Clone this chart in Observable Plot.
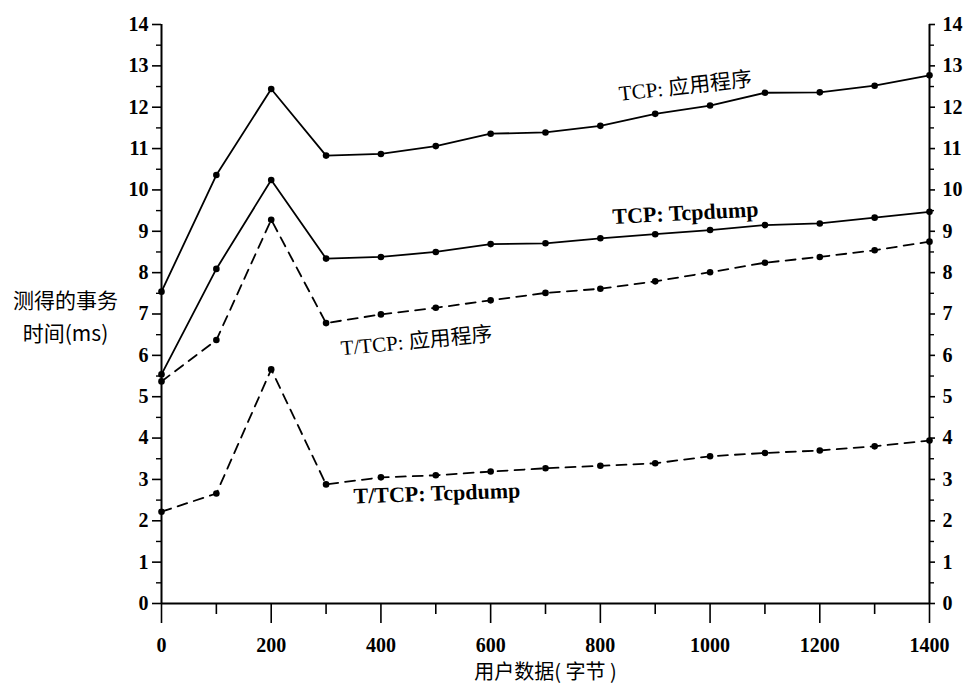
<!DOCTYPE html>
<html>
<head>
<meta charset="utf-8">
<script src="https://cdn.jsdelivr.net/npm/d3@7"></script>
<script src="https://cdn.jsdelivr.net/npm/@observablehq/plot@0.6"></script>
<style>
  html, body { margin: 0; padding: 0; background: #fff; }
  #chart { width: 966px; height: 690px; }
</style>
</head>
<body>
<div id="chart"></div>
<script>
// ---- data ----
const userBytes = [0, 100, 200, 300, 400, 500, 600, 700, 800, 900, 1000, 1100, 1200, 1300, 1400];
const tcpApp    = [7.54, 10.36, 12.44, 10.83, 10.87, 11.06, 11.36, 11.39, 11.55, 11.84, 12.04, 12.35, 12.36, 12.52, 12.77];
const tcpDump   = [5.54, 8.09, 10.24, 8.34, 8.38, 8.50, 8.69, 8.71, 8.83, 8.93, 9.03, 9.15, 9.19, 9.33, 9.47];
const ttcpApp   = [5.37, 6.37, 9.28, 6.78, 6.99, 7.15, 7.33, 7.51, 7.61, 7.79, 8.01, 8.24, 8.38, 8.54, 8.75];
const ttcpDump  = [2.22, 2.66, 5.66, 2.88, 3.05, 3.10, 3.19, 3.27, 3.33, 3.39, 3.56, 3.64, 3.70, 3.80, 3.94];

const seriesNames = ["TCP: 应用程序", "TCP: Tcpdump", "T/TCP: 应用程序", "T/TCP: Tcpdump"];
const seriesDashed = [false, false, true, true];
const seriesBold = [false, true, false, true];
// label anchors in data units (x bytes, y ms) and rotation in degrees
const labelX = [955, 955, 465, 502];
const labelY = [12.5, 9.44, 6.34, 2.66];
const labelRotate = [-6.5, -3, -5.5, -2];

const yTicks = d3.range(0, 15);
const yMinorTicks = d3.range(0.5, 14, 1);
const xTicks = d3.range(0, 1401, 200);
const xMinorTicks = d3.range(100, 1400, 200);

const yTitle = "测得的事务\n时间(ms)";
const xTitle = "用户数据( 字节 )";

// ---- build tables ----
const allSeries = [tcpApp, tcpDump, ttcpApp, ttcpDump];
const rows = allSeries.flatMap((vals, i) =>
  vals.map((v, j) => ({series: seriesNames[i], dashed: seriesDashed[i], x: userBytes[j], y: v})));
const labels = seriesNames.map((name, i) => ({
  text: name, x: labelX[i], y: labelY[i], rotate: labelRotate[i], bold: seriesBold[i]
}));

const serif = "Liberation Serif, Noto Sans CJK SC, serif";
const sans = "Noto Sans CJK SC, Noto Sans, sans-serif";
const plain = d => String(d);
const ident = d => d;

const lineMarks = seriesNames.map((name, i) =>
  Plot.line(rows.filter(d => d.series === name), {
    x: "x", y: "y", stroke: "black", strokeWidth: 1.8,
    strokeDasharray: seriesDashed[i] ? "10,7" : null
  }));

const tickLabelStyle = {fontSize: 20, fontWeight: "bold", fontFamily: serif, fill: "black", text: plain};

const chart = Plot.plot({
  width: 966,
  height: 690,
  marginLeft: 161,
  marginRight: 37,
  marginTop: 24,
  marginBottom: 87,
  style: `font-family: ${serif}; background: white; color: black; overflow: visible;`,
  x: {domain: [0, 1400], axis: null},
  y: {domain: [0, 14], axis: null},
  marks: [
    // ticks (zero-length rules at the axes, extended outward by negative insets)
    Plot.ruleY(yTicks, {y: ident, x1: 0, x2: 0, insetLeft: -9, stroke: "black", strokeWidth: 1.6}),
    Plot.ruleY(yMinorTicks, {y: ident, x1: 0, x2: 0, insetLeft: -5, stroke: "black", strokeWidth: 1.4}),
    Plot.ruleY(yTicks, {y: ident, x1: 1400, x2: 1400, insetRight: -6, stroke: "black", strokeWidth: 1.6}),
    Plot.ruleY(yMinorTicks, {y: ident, x1: 1400, x2: 1400, insetRight: -5, stroke: "black", strokeWidth: 1.4}),
    Plot.ruleX(xTicks, {x: ident, y1: 0, y2: 0, insetBottom: -20, stroke: "black", strokeWidth: 1.6}),
    Plot.ruleX(xMinorTicks, {x: ident, y1: 0, y2: 0, insetBottom: -11, stroke: "black", strokeWidth: 1.6}),
    // tick labels
    Plot.text(yTicks, {...tickLabelStyle, x: 0, y: ident, textAnchor: "end", dx: -13}),
    Plot.text(yTicks, {...tickLabelStyle, x: 1400, y: ident, textAnchor: "start", dx: 13}),
    Plot.text(xTicks, {...tickLabelStyle, x: ident, y: 0, dy: 42}),
    // frame lines
    Plot.ruleX([0, 1400], {stroke: "black", strokeWidth: 2}),
    Plot.ruleY([0], {stroke: "black", strokeWidth: 2}),
    // data
    ...lineMarks,
    Plot.dot(rows, {x: "x", y: "y", r: 3.3, fill: "black", stroke: null}),
    // series labels
    Plot.text(labels.filter(d => !d.bold), {x: "x", y: "y", text: "text", rotate: "rotate",
      fontSize: 21, fontFamily: serif, fill: "black"}),
    Plot.text(labels.filter(d => d.bold), {x: "x", y: "y", text: "text", rotate: "rotate",
      fontSize: 22, fontWeight: "bold", fontFamily: serif, fill: "black"}),
    // axis titles
    Plot.text([yTitle], {frameAnchor: "left", dx: -96, text: ident, textAnchor: "middle",
      lineHeight: 1.55, fontSize: 21, fontFamily: sans, fill: "black"}),
    Plot.text([xTitle], {frameAnchor: "bottom", dy: 75, text: ident, textAnchor: "middle",
      fontSize: 20, fontFamily: sans, fill: "black"})
  ]
});

document.getElementById("chart").appendChild(chart);
</script>
</body>
</html>
